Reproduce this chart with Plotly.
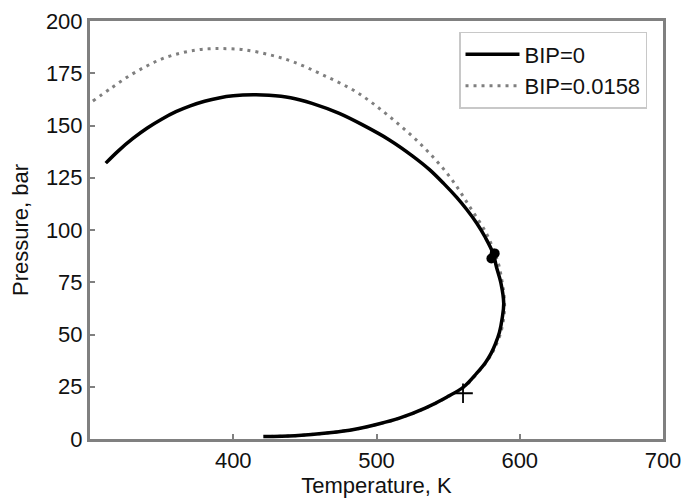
import plotly.graph_objects as go

# BIP = 0 phase envelope (dew branch -> critical -> bubble branch)
T_bip0 = [311, 320, 330, 340, 350, 360, 370, 380, 390, 400, 414, 425, 440, 455, 474,
          490, 509, 525, 537, 547, 556, 563, 570, 576, 581.4, 583.7, 586.9, 588.8,
          587.8, 585.8, 583, 580, 576, 570, 561, 549, 534, 516, 502, 485, 467, 443, 421]
P_bip0 = [132, 138, 143.8, 148.8, 153, 156.6, 159.4, 161.6, 163.2, 164.2, 164.7,
          164.5, 163.3, 160.6, 155.8, 150.4, 143.1, 135.5, 128.9, 122.2, 115.6, 109.8,
          103.2, 96.4, 88.8, 82.4, 74.5, 65, 58, 51, 45.5, 41, 36.5, 31.5, 25, 20, 14.8,
          10, 7.3, 4.7, 3, 1.6, 1.2]

# BIP = 0.0158 phase envelope
T_bip1 = [302, 315, 328, 340, 351, 363, 374, 383, 392, 407, 425, 441.7, 462.6, 486,
          509.2, 532.5, 551.1, 565.1, 576.7, 582.5, 585.5, 587.5, 589, 589.4, 588.6,
          586.6, 583.8, 581, 576.4, 570.4, 561.4, 549.4, 534.4, 516.4, 502.4, 485.4,
          467.4, 443.4, 421.4]
P_bip1 = [161.7, 168, 174, 178.6, 182.1, 184.6, 186.1, 186.7, 186.8, 186.3, 183.9,
          180.5, 174.2, 166, 154.2, 139.9, 125.5, 111.1, 98.4, 89, 83, 76, 69, 63, 57,
          50.5, 45.5, 41.5, 36.5, 31.5, 25, 20, 14.8, 10, 7.3, 4.7, 3, 1.6, 1.2]

# critical points and the single measured point
T_crit = [580.2, 582.5]
P_crit = [86.4, 88.8]
T_meas = [560.4]
P_meas = [21.9]

FONT = "Arial, Liberation Sans, sans-serif"
AXIS_GRAY = "#808080"
TXT = "#111111"
FS = 22

fig = go.Figure()
fig.add_trace(go.Scatter(
    x=T_bip1, y=P_bip1, mode="lines", name="BIP=0.0158", legendrank=2,
    line=dict(color="#7f7f7f", width=3, dash="3px,5px", shape="spline", smoothing=1.0),
))
fig.add_trace(go.Scatter(
    x=T_bip0, y=P_bip0, mode="lines", name="BIP=0", legendrank=1,
    line=dict(color="black", width=3.5, shape="spline", smoothing=1.0),
))
fig.add_trace(go.Scatter(
    x=T_crit, y=P_crit, mode="markers", showlegend=False,
    marker=dict(symbol="circle", size=10, color="black"),
))
fig.add_trace(go.Scatter(
    x=T_meas, y=P_meas, mode="markers", showlegend=False,
    marker=dict(symbol="cross-thin", size=14, color="black",
                line=dict(color="black", width=1.8)),
))

axis_common = dict(
    showline=True, linecolor=AXIS_GRAY, linewidth=3, mirror=True,
    ticks="inside", ticklen=5, tickwidth=1.5, tickcolor=AXIS_GRAY,
    showgrid=False, zeroline=False, automargin=False,
    ticklabeloverflow="allow",
    tickfont=dict(family=FONT, size=FS, color=TXT),
)

fig.update_layout(
    width=681, height=499,
    margin=dict(l=90, r=18, t=21, b=60),
    paper_bgcolor="white", plot_bgcolor="white",
    font=dict(family=FONT, size=FS, color=TXT),
    xaxis=dict(range=[300, 700], tickvals=[400, 500, 600, 700],
               title=dict(text="Temperature, K", standoff=6,
                          font=dict(family=FONT, size=FS, color=TXT)),
               **axis_common),
    yaxis=dict(range=[0, 200], tickvals=[0, 25, 50, 75, 100, 125, 150, 175, 200],
               title=dict(text="Pressure, bar", standoff=12,
                          font=dict(family=FONT, size=FS, color=TXT)),
               **axis_common),
    legend=dict(x=0.644, y=0.974, xanchor="left", yanchor="top",
                bgcolor="white", bordercolor="#c8c8c8", borderwidth=1.5,
                font=dict(family=FONT, size=FS, color=TXT),
                itemwidth=54),
    showlegend=True,
)

fig.write_html("out.html")
